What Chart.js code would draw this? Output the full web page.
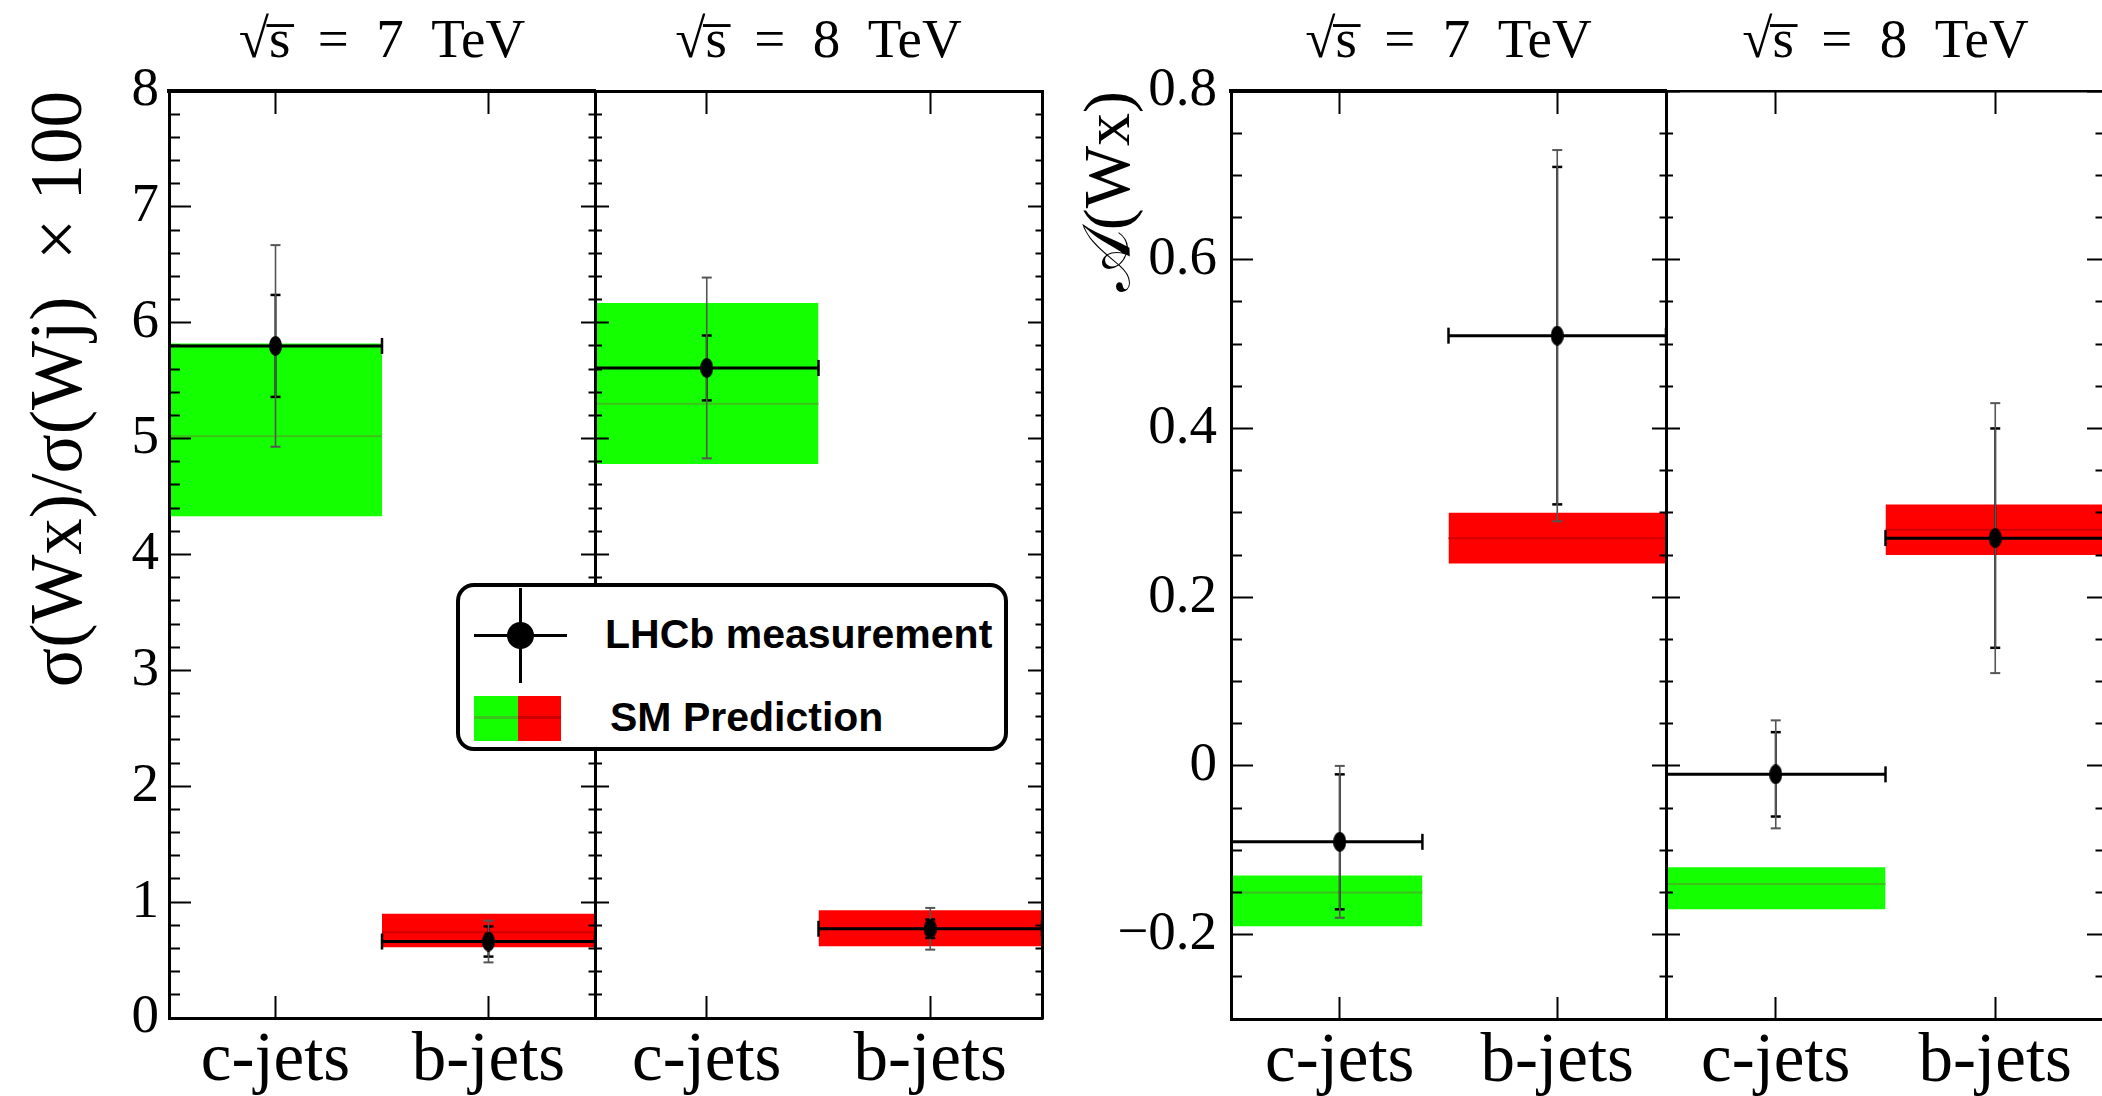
<!DOCTYPE html>
<html>
<head>
<meta charset="utf-8">
<script src="https://cdn.jsdelivr.net/npm/chart.js@4.4.1/dist/chart.umd.min.js"></script>
<style>
  body { margin: 0; width: 2102px; height: 1096px; overflow: hidden; background: #fff; position: relative; }
  canvas { position: absolute; top: 0; }
  .lg { position: absolute; }
  #legendBox { left: 456px; top: 583px; width: 552px; height: 168px; box-sizing: border-box;
               border: 4px solid #000; border-radius: 18px; background: #fff; }
  .lgText { font: bold 41px "Liberation Sans", Arial, sans-serif; line-height: 41px; white-space: nowrap; color: #000; }
</style>
</head>
<body>
<canvas id="p1" width="598" height="1096" style="left:0px"></canvas>
<canvas id="p2" width="453" height="1096" style="left:592px"></canvas>
<canvas id="p3" width="609" height="1096" style="left:1060px"></canvas>
<canvas id="p4" width="445" height="1096" style="left:1663px"></canvas>

<div class="lg" id="legendBox"></div>
<div class="lg" style="left:519px;top:588px;width:3px;height:95px;background:#000"></div>
<div class="lg" style="left:474px;top:634px;width:93px;height:3px;background:#000"></div>
<div class="lg" style="left:507px;top:622px;width:27px;height:27px;border-radius:50%;background:#000"></div>
<div class="lg lgText" style="left:605px;top:614px">LHCb measurement</div>
<div class="lg" style="left:474px;top:696px;width:44px;height:45px;background:#14ff00"></div>
<div class="lg" style="left:518px;top:696px;width:43px;height:45px;background:#ff0000"></div>
<div class="lg" style="left:474px;top:716px;width:44px;height:3px;background:#3cc21a"></div>
<div class="lg" style="left:518px;top:716px;width:43px;height:3px;background:#d10000"></div>
<div class="lg lgText" style="left:610px;top:697px">SM Prediction</div>

<script>
// categories on the x axis of every panel
const categories = ['c-jets', 'b-jets'];
const energyLabels = ['√s̅\u2002=\u20027\u2002TeV', '√s̅\u2002=\u20028\u2002TeV'];

// labelled y ticks
const ratioTicks = [0, 1, 2, 3, 4, 5, 6, 7, 8];
const asymTicks = [-0.2, 0, 0.2, 0.4, 0.6, 0.8];

// sigma(Wx)/sigma(Wj) x 100 at 7 TeV
const ratio7Meas = [5.80, 0.66];
const ratio7Stat = [0.44, 0.13];
const ratio7Tot = [0.87, 0.18];
const ratio7Sm = [5.02, 0.74];
const ratio7SmHi = [5.82, 0.90];
const ratio7SmLo = [4.33, 0.61];

// sigma(Wx)/sigma(Wj) x 100 at 8 TeV
const ratio8Meas = [5.61, 0.77];
const ratio8Stat = [0.28, 0.08];
const ratio8Tot = [0.78, 0.18];
const ratio8Sm = [5.30, 0.77];
const ratio8SmHi = [6.17, 0.93];
const ratio8SmLo = [4.78, 0.62];

// charge asymmetry A(Wx) at 7 TeV
const asym7Meas = [-0.09, 0.51];
const asym7Stat = [0.08, 0.20];
const asym7Tot = [0.09, 0.22];
const asym7Sm = [-0.15, 0.27];
const asym7SmHi = [-0.13, 0.30];
const asym7SmLo = [-0.19, 0.24];

// charge asymmetry A(Wx) at 8 TeV
const asym8Meas = [-0.01, 0.27];
const asym8Stat = [0.05, 0.13];
const asym8Tot = [0.064, 0.16];
const asym8Sm = [-0.14, 0.28];
const asym8SmHi = [-0.12, 0.31];
const asym8SmLo = [-0.17, 0.25];

// x extent of each bin (category i sits at i + 0.5)
const binsDefault = [[0, 1], [1, 2]];
const binsAsym7 = [[0, 0.88], [1, 2]];

const SERIF = '"Liberation Serif", "Times New Roman", "DejaVu Serif", serif';
const bandColors = ['#14ff00', '#ff0000'];
const midColors = ['#3cc21a', '#d10000'];

Chart.defaults.color = '#000';
Chart.defaults.font.family = SERIF;

function ellipseDot(w, h) {
    const c = document.createElement('canvas');
    c.width = w; c.height = h;
    const g = c.getContext('2d');
    g.fillStyle = '#000';
    g.beginPath();
    g.ellipse(w / 2, h / 2, w / 2, h / 2, 0, 0, 2 * Math.PI);
    g.fill();
    return c;
}
const dot = ellipseDot(13, 20);

function isMajor(v, majors) {
    return majors.some(t => Math.abs(t - v) < 1e-6);
}

function fmtTick(v) {
    return v < 0 ? '\u2212' + Math.abs(v) : String(v);
}

// inward ticks on a vertical axis; minor ticks are shortened with a dash
function yGrid(pos, L, m, majors) {
    return {
        drawOnChartArea: false,
        drawTicks: true,
        tickLength: -L,
        tickWidth: 2,
        tickColor: '#000',
        z: 1,
        tickBorderDash: ctx => {
            if (!ctx.tick || isMajor(ctx.tick.value, majors)) return [];
            return pos === 'left' ? [0, L - m, 1000] : [m + 1.5, 1000];
        }
    };
}

function catTicks(scale) {
    scale.ticks = categories.map((c, i) => ({ value: i + 0.5 }));
}

function buildPanel(p) {
    const datasets = [];
    categories.forEach((cat, i) => {
        const [x0, x1] = p.bins[i];
        const xc = i + 0.5;
        // SM band
        datasets.push({
            data: [{ x: x0, y: p.smHi[i] }, { x: x1, y: p.smHi[i] }],
            borderColor: 'rgba(0,0,0,0)', borderWidth: 0, pointRadius: 0,
            backgroundColor: bandColors[i], fill: { value: p.smLo[i] }, order: 5
        });
        // SM central value
        datasets.push({
            data: [{ x: x0, y: p.sm[i] }, { x: x1, y: p.sm[i] }],
            borderColor: midColors[i], borderWidth: 2, pointRadius: 0, fill: false, order: 4
        });
        // measurement: bin width bar
        datasets.push({
            data: [{ x: x0, y: p.meas[i] }, { x: x1, y: p.meas[i] }],
            borderColor: '#000', borderWidth: 3, fill: false, order: 3,
            pointStyle: 'line', pointRotation: 90, pointRadius: 8,
            pointBorderWidth: 2.5, pointBorderColor: '#000'
        });
        // total uncertainty
        datasets.push({
            data: [{ x: xc, y: p.meas[i] - p.tot[i] }, { x: xc, y: p.meas[i] + p.tot[i] }],
            borderColor: '#555', borderWidth: 1.6, fill: false, order: 2,
            pointStyle: 'line', pointRadius: 5, pointBorderWidth: 2, pointBorderColor: '#555'
        });
        // statistical uncertainty
        datasets.push({
            data: [{ x: xc, y: p.meas[i] - p.stat[i] }, { x: xc, y: p.meas[i] + p.stat[i] }],
            borderColor: '#000', borderWidth: 2, fill: false, order: 2,
            pointStyle: 'line', pointRadius: 5, pointBorderWidth: 2.5, pointBorderColor: '#000'
        });
        // central point
        datasets.push({
            data: [{ x: xc, y: p.meas[i] }],
            showLine: false, pointStyle: dot, pointRadius: 10, order: 1
        });
    });

    new Chart(document.getElementById(p.canvas), {
        type: 'line',
        data: { datasets },
        options: {
            responsive: false,
            animation: false,
            events: [],
            layout: { padding: 0, autoPadding: false },
            plugins: { legend: { display: false }, tooltip: { enabled: false } },
            scales: {
                x: {
                    type: 'linear', position: 'bottom', min: 0, max: 2,
                    afterBuildTicks: catTicks,
                    afterFit: s => { s.height = p.axisBottom; },
                    ticks: {
                        autoSkip: false, maxRotation: 0,
                        callback: (v, i) => categories[i],
                        font: { family: SERIF, size: 69 }, padding: 24
                    },
                    grid: { drawOnChartArea: false, tickLength: -22, tickWidth: 2, tickColor: '#000', z: 1 },
                    border: { display: true, color: '#000', width: 3, z: 1 }
                },
                xTop: {
                    type: 'linear', position: 'top', min: 0, max: 2,
                    afterBuildTicks: catTicks,
                    afterFit: s => { s.height = 91; },
                    ticks: { display: false, autoSkip: false },
                    grid: { drawOnChartArea: false, tickLength: -23, tickWidth: 2, tickColor: '#000', z: 1 },
                    border: { display: true, color: '#000', width: p.topWidth, z: 1 },
                    title: {
                        display: true, text: p.title, color: '#000',
                        font: { family: SERIF, size: 55 }, padding: { top: 10, bottom: 0 }
                    }
                },
                y: {
                    type: 'linear', position: 'left', min: p.yMin, max: p.yMax,
                    afterFit: s => { s.width = p.axisLeft; },
                    ticks: {
                        display: p.labels, stepSize: p.step, autoSkip: false,
                        callback: v => isMajor(v, p.majors) ? fmtTick(p.majors.find(t => Math.abs(t - v) < 1e-6)) : '',
                        font: { family: SERIF, size: 55 }, padding: p.labelPad
                    },
                    grid: yGrid('left', p.tickL, p.tickLm, p.majors),
                    border: { display: true, color: '#000', width: 3, z: 1 },
                    title: p.yTitle ? {
                        display: true, text: p.yTitle, align: 'end', color: '#000',
                        font: { family: SERIF, size: p.yTitleSize }, padding: { top: p.yTitlePad, bottom: 0 }
                    } : { display: false }
                },
                yRight: {
                    type: 'linear', position: 'right', min: p.yMin, max: p.yMax,
                    afterFit: s => { s.width = 3; },
                    ticks: { display: false, stepSize: p.step, autoSkip: false },
                    grid: yGrid('right', p.tickR, p.tickRm, p.majors),
                    border: { display: true, color: '#000', width: 3, z: 1 }
                }
            }
        }
    });
}

const ratioBase = { yMin: 0, yMax: 8, step: 0.2, majors: ratioTicks, axisBottom: 78 };
const asymBase = { yMin: -0.3, yMax: 0.8, step: 0.05, majors: asymTicks, axisBottom: 77 };

buildPanel(Object.assign({}, ratioBase, {
    canvas: 'p1', axisLeft: 169, labels: true, labelPad: 32, topWidth: 4,
    yTitle: 'σ(Wx)/σ(Wj)  × 100', yTitleSize: 73, yTitlePad: 18,
    tickL: 22, tickLm: 11, tickR: 14, tickRm: 7,
    title: energyLabels[0], bins: binsDefault,
    meas: ratio7Meas, stat: ratio7Stat, tot: ratio7Tot, sm: ratio7Sm, smHi: ratio7SmHi, smLo: ratio7SmLo
}));
buildPanel(Object.assign({}, ratioBase, {
    canvas: 'p2', axisLeft: 3, labels: false, labelPad: 0, topWidth: 3,
    tickL: 14, tickLm: 7, tickR: 14, tickRm: 7,
    title: energyLabels[1], bins: binsDefault,
    meas: ratio8Meas, stat: ratio8Stat, tot: ratio8Tot, sm: ratio8Sm, smHi: ratio8SmHi, smLo: ratio8SmLo
}));
buildPanel(Object.assign({}, asymBase, {
    canvas: 'p3', axisLeft: 171, labels: true, labelPad: 36, topWidth: 4,
    yTitle: '𝒜(Wx)', yTitleSize: 66, yTitlePad: 12,
    tickL: 22, tickLm: 11, tickR: 14, tickRm: 7,
    title: energyLabels[0], bins: binsAsym7,
    meas: asym7Meas, stat: asym7Stat, tot: asym7Tot, sm: asym7Sm, smHi: asym7SmHi, smLo: asym7SmLo
}));
buildPanel(Object.assign({}, asymBase, {
    canvas: 'p4', axisLeft: 3, labels: false, labelPad: 0, topWidth: 2.5,
    tickL: 14, tickLm: 7, tickR: 18, tickRm: 10,
    title: energyLabels[1], bins: binsDefault,
    meas: asym8Meas, stat: asym8Stat, tot: asym8Tot, sm: asym8Sm, smHi: asym8SmHi, smLo: asym8SmLo
}));
</script>
</body>
</html>
